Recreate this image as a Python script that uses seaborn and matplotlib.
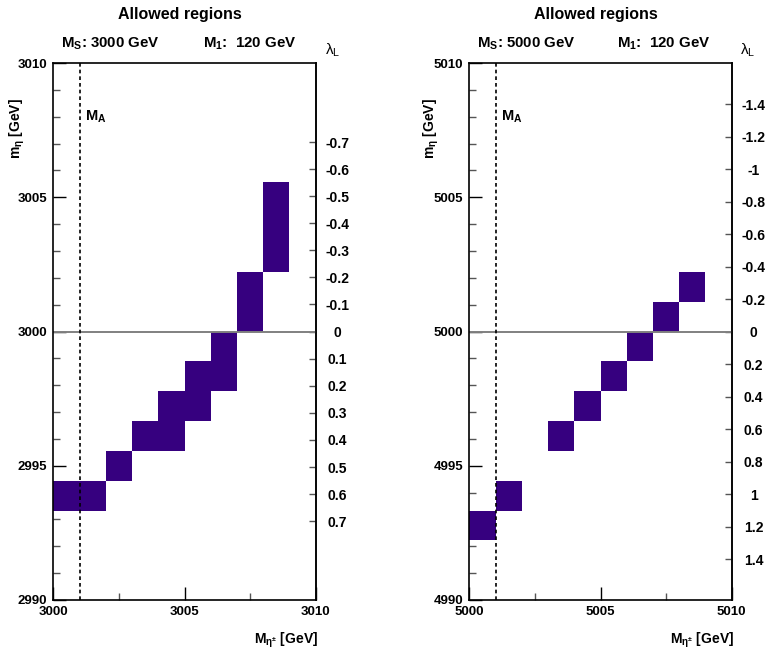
import numpy as np
import pandas as pd
import matplotlib
matplotlib.use("Agg")
import matplotlib.pyplot as plt
from matplotlib.colors import ListedColormap
import seaborn as sns

# ---------------- data ----------------
# panel 1 : M_S = 3000 GeV
ms_left = 3000.0
mch_left = [3000.5, 3001.5, 3002.5, 3003.5, 3004.5, 3004.5, 3005.5, 3005.5,
            3006.5, 3006.5, 3007.5, 3007.5, 3008.5, 3008.5, 3008.5]
meta_left = [2993.9, 2993.9, 2995.0, 2996.1, 2996.1, 2997.2, 2997.2, 2998.3,
             2998.3, 2999.4, 3000.6, 3001.7, 3002.8, 3003.9, 3005.0]
lam_ticks_left = [-0.7, -0.6, -0.5, -0.4, -0.3, -0.2, -0.1, 0.0,
                  0.1, 0.2, 0.3, 0.4, 0.5, 0.6, 0.7]

# panel 2 : M_S = 5000 GeV
ms_right = 5000.0
mch_right = [5000.5, 5001.5, 5003.5, 5004.5, 5005.5, 5006.5, 5007.5, 5008.5]
meta_right = [4992.8, 4993.9, 4996.1, 4997.2, 4998.3, 4999.4, 5000.6, 5001.7]
lam_ticks_right = [-1.4, -1.2, -1.0, -0.8, -0.6, -0.4, -0.2, 0.0,
                   0.2, 0.4, 0.6, 0.8, 1.0, 1.2, 1.4]

m1_value = 120
ma_offset = 1.0     # M_A line position relative to M_S
vev = 246.0
cell_color = "#36007f"

# ---------------- style ----------------
sns.set_style("white")
plt.rcParams["font.family"] = ["Liberation Sans", "DejaVu Sans"]
plt.rcParams["font.weight"] = "bold"
plt.rcParams["mathtext.default"] = "regular"
plt.rcParams["axes.unicode_minus"] = False
for k in ["text.color", "axes.labelcolor", "xtick.color", "ytick.color",
          "xtick.labelcolor", "ytick.labelcolor"]:
    plt.rcParams[k] = "black"

W, H = 770, 654
fig = plt.figure(figsize=(W / 100, H / 100), dpi=100)
fig.patch.set_facecolor("white")


def fx(px):
    return px / W


def fy(py):
    return 1 - py / H


def panel(ax_left_px, ms, mch, meta, lam_ticks, title_cx, ms_txt_x, m1_txt_x,
          lam_x, ylab_x, xlab_right):
    ax = fig.add_axes([fx(ax_left_px), fy(600), (262.4) / W, 537 / H])
    df = pd.DataFrame({"mch": mch, "meta": meta})
    xedges = np.linspace(ms, ms + 10, 11)
    yedges = np.linspace(ms - 10, ms + 10, 19)
    sns.histplot(data=df, x="mch", y="meta", bins=[xedges, yedges], ax=ax,
                 cmap=ListedColormap([cell_color]), thresh=0.5, zorder=1)
    ax.set_xlim(ms, ms + 10)
    ax.set_ylim(ms - 10, ms + 10)
    ax.set_xlabel("")
    ax.set_ylabel("")

    # zero line and M_A line
    ax.axhline(ms, color="#808080", lw=1.4, zorder=2)
    ax.axvline(ms + ma_offset, color="black", lw=1.2, ls=(0, (2.2, 1.8)), zorder=3)
    ax.text(ms + 1.2, ms + 8.0, "M$_{A}$", fontsize=10.5, fontweight="bold",
            va="center", ha="left")

    # ticks
    ax.set_xticks([ms, ms + 5, ms + 10])
    ax.set_xticklabels([f"{int(v)}" for v in [ms, ms + 5, ms + 10]])
    ax.set_xticks([ms + 2.5, ms + 7.5], minor=True)
    ax.set_yticks([ms - 10, ms - 5, ms, ms + 5, ms + 10])
    ax.set_yticklabels([f"{int(v)}" for v in [ms - 10, ms - 5, ms, ms + 5, ms + 10]])
    ax.set_yticks(np.arange(ms - 10, ms + 10.1, 1.0), minor=True)
    ax.tick_params(axis="both", which="major", direction="in", length=9.4,
                   width=1.0, color="black", labelsize=9.5, pad=4.3)
    ax.tick_params(axis="both", which="minor", direction="in", length=5,
                   width=1.0, color="#555555")
    ax.tick_params(axis="y", which="both", left=True, right=False)
    ax.tick_params(axis="x", which="both", bottom=True, top=False)
    for lab in ax.get_xticklabels() + ax.get_yticklabels():
        lab.set_fontweight("bold")
    for sp in ax.spines.values():
        sp.set_visible(True)
        sp.set_color("black")
        sp.set_linewidth(1.2)

    # secondary lambda axis
    def m2lam(m):
        return (ms ** 2 - np.asarray(m, dtype=float) ** 2) / vev ** 2

    def lam2m(l):
        return np.sqrt(np.clip(ms ** 2 - np.asarray(l, dtype=float) * vev ** 2, 0, None))

    sec = ax.secondary_yaxis("right", functions=(m2lam, lam2m))
    sec.set_yticks(lam_ticks)
    sec.set_yticklabels([f"{(0.0 if abs(v) < 1e-9 else v):g}" for v in lam_ticks])
    sec.tick_params(axis="y", which="major", direction="in", length=5,
                    width=1.0, color="#555555", labelcolor="black",
                    labelsize=10, pad=15.8)
    sec.tick_params(axis="y", which="minor", length=0)
    sec.spines["right"].set_linewidth(1.2)
    for lab in sec.get_yticklabels():
        lab.set_ha("center")
        lab.set_fontweight("bold")

    # texts
    fig.text(fx(title_cx), fy(15), "Allowed regions", ha="center", va="center",
             fontsize=11.5, fontweight="bold")
    fig.text(fx(ms_txt_x), fy(44), f"M$_{{S}}$: {int(ms)} GeV", ha="left",
             va="center", fontsize=10.8, fontweight="bold")
    fig.text(fx(m1_txt_x), fy(44), f"M$_{{1}}$:  {m1_value} GeV", ha="left",
             va="center", fontsize=10.8, fontweight="bold")
    fig.text(fx(lam_x), fy(50), "λ$_{L}$", ha="left", va="center",
             fontsize=11, fontweight="normal")
    fig.text(fx(ylab_x), fy(98), "m$_{η}$ [GeV]", rotation=90, ha="center",
             va="top", fontsize=10, fontweight="bold")
    fig.text(fx(xlab_right), fy(640), "M$_{η^{±}}$ [GeV]", ha="right",
             va="center", fontsize=10, fontweight="bold")
    return ax


panel(53.3, ms_left, mch_left, meta_left, lam_ticks_left,
      title_cx=180, ms_txt_x=61, m1_txt_x=203, lam_x=325, ylab_x=17, xlab_right=318)
panel(469.3, ms_right, mch_right, meta_right, lam_ticks_right,
      title_cx=596, ms_txt_x=477, m1_txt_x=617, lam_x=740, ylab_x=431, xlab_right=734)

fig.savefig("out.png", dpi=100, facecolor="white")
